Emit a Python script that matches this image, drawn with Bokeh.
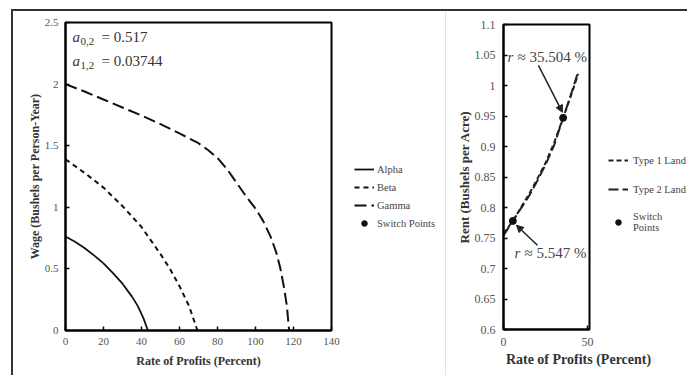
from bokeh.plotting import figure
from bokeh.models import (Range1d, FixedTicker, CustomJSTickFormatter, Legend, LegendItem,
                          Label, Arrow, NormalHead)
from bokeh.layouts import row, column
from bokeh.embed import file_html
from bokeh.resources import INLINE

# ---------------- data: left panel (wage-profit frontiers) ----------------
alpha_r = [0, 5, 10, 15, 20, 25, 30, 35, 38, 41, 43.4]
alpha_w = [0.763, 0.72, 0.67, 0.61, 0.545, 0.465, 0.38, 0.275, 0.2, 0.1, 0.0]

beta_r = [0, 10, 20, 30, 40, 50, 55, 60, 65, 69, 69.5]
beta_w = [1.39, 1.28, 1.16, 1.01, 0.84, 0.62, 0.50, 0.36, 0.20, 0.02, 0.0]

gamma_r = [0, 10, 20, 30, 40, 50, 60, 70, 75, 80, 85, 90, 95, 100, 104, 108, 111, 113, 115,
           116.5, 117.7]
gamma_w = [2.0, 1.94, 1.875, 1.81, 1.745, 1.675, 1.60, 1.52, 1.465, 1.40, 1.31, 1.20, 1.09,
           0.99, 0.89, 0.76, 0.63, 0.51, 0.35, 0.20, 0.0]

left_xticks = [0, 20, 40, 60, 80, 100, 120, 140]
left_yticks = [0, 0.5, 1, 1.5, 2, 2.5]
coef_labels = [("0,2", "= 0.517"), ("1,2", "= 0.03744")]
left_legend_labels = ["Alpha", "Beta", "Gamma", "Switch Points"]

# ---------------- data: right panel (rent curves) ----------------
land_r = [0, 5.547, 10, 15, 20, 25, 30, 35.504, 40, 44.5]
type1_rent = [0.757, 0.778, 0.798, 0.821, 0.846, 0.873, 0.905, 0.947, 0.982, 1.019]
type2_rent = [0.754, 0.778, 0.797, 0.818, 0.843, 0.870, 0.901, 0.947, 0.984, 1.023]
switch_r = [5.547, 35.504]
switch_rent = [0.778, 0.947]
switch_text = ["5.547 %", "35.504 %"]
right_legend_labels = ["Type 1 Land", "Type 2 Land", "Switch\nPoints"]

right_xticks = [0, 50]
right_yticks = [0.6, 0.65, 0.7, 0.75, 0.8, 0.85, 0.9, 0.95, 1.0, 1.05, 1.1]

SERIF = "Liberation Serif"
fmt = CustomJSTickFormatter(code="return tick.toFixed(2).replace(/\\.?0+$/, '');")

ALPHA_STYLE = dict(line_color="#111111", line_width=1.8)
BETA_STYLE = dict(line_color="#111111", line_width=2, line_dash="5 4")
GAMMA_STYLE = dict(line_color="#111111", line_width=2, line_dash="12 5")
T1_STYLE = dict(line_color="#222222", line_width=2, line_dash="5 3")
T2_STYLE = dict(line_color="#222222", line_width=2, line_dash="10 4")
PT_STYLE = dict(size=7, color="#111111")
OFF = [-1000, -999]   # legend proxy renderers live outside the visible range


def style(p, tick_size):
    p.outline_line_color = "black"
    p.outline_line_width = 2
    p.grid.visible = False
    p.border_fill_color = "white"
    for ax in (p.xaxis[0], p.yaxis[0]):
        ax.axis_line_color = "black"
        ax.axis_line_width = 2
        ax.major_tick_in = 4
        ax.major_tick_out = 0
        ax.minor_tick_line_color = None
        ax.major_tick_line_color = "black"
        ax.major_tick_line_width = 1.5
        ax.major_label_text_font = SERIF
        ax.major_label_text_font_size = tick_size
        ax.major_label_text_color = "#555555"
        ax.axis_label_text_font = SERIF
        ax.axis_label_text_font_style = "bold"
        ax.axis_label_text_color = "#333333"
        ax.formatter = fmt


def blank(w, h):
    f = figure(width=w, height=h, x_range=Range1d(0, w), y_range=Range1d(0, h),
               x_axis_type=None, y_axis_type=None, output_backend="svg",
               toolbar_location=None, min_border=0)
    f.outline_line_color = None
    f.grid.visible = False
    f.border_fill_color = "white"
    f.background_fill_color = "white"
    return f


def make_legend(items, loc, spacing, standoff):
    return Legend(items=items, location=loc, glyph_width=20, glyph_height=14,
                  label_height=14, spacing=spacing, padding=0, margin=0,
                  label_standoff=standoff,
                  label_text_font=SERIF, label_text_font_size="10.5px",
                  label_text_color="#444444", border_line_alpha=0,
                  background_fill_alpha=0)


# ---------------- left figure ----------------
p1 = figure(width=331, height=364, x_range=Range1d(0, 140), y_range=Range1d(0, 2.5),
            output_backend="svg", toolbar_location=None,
            min_border_left=52, min_border_right=13, min_border_top=11, min_border_bottom=45)
style(p1, "11px")
p1.xaxis.ticker = FixedTicker(ticks=left_xticks)
p1.yaxis.ticker = FixedTicker(ticks=left_yticks)
p1.xaxis.axis_label = "Rate of Profits (Percent)"
p1.yaxis.axis_label = "Wage (Bushels per Person-Year)"
p1.xaxis.axis_label_text_font_size = "12px"
p1.yaxis.axis_label_text_font_size = "12px"
p1.xaxis.major_label_standoff = 7
p1.yaxis.major_label_standoff = 7
p1.xaxis.axis_label_standoff = 6
p1.yaxis.axis_label_standoff = 0

p1.line(alpha_r, alpha_w, **ALPHA_STYLE)
p1.line(beta_r, beta_w, **BETA_STYLE)
p1.line(gamma_r, gamma_w, **GAMMA_STYLE)

for i, (sub, rest) in enumerate(coef_labels):
    yv = 2.386 - i * 0.196
    p1.add_layout(Label(x=3.7, y=yv, text="a", text_font=SERIF, text_font_style="italic",
                        text_font_size="15px", text_color="#333333", text_baseline="middle"))
    p1.add_layout(Label(x=3.7, y=yv, x_offset=8, y_offset=-5, text=sub, text_font=SERIF,
                        text_font_size="11px", text_color="#333333", text_baseline="middle"))
    p1.add_layout(Label(x=3.7, y=yv, x_offset=29, text=rest, text_font=SERIF,
                        text_font_size="15px", text_color="#333333", text_baseline="middle"))

# left legend area (its frame is aligned with p1's frame by the row)
L1 = blank(101, 364)
la = L1.line(OFF, OFF, **ALPHA_STYLE)
lb = L1.line(OFF, OFF, **BETA_STYLE)
lg = L1.line(OFF, OFF, **GAMMA_STYLE)
ls = L1.scatter(OFF, OFF, size=6, color="#111111")
L1.add_layout(make_legend([LegendItem(label=t, renderers=[r]) for t, r in
                           zip(left_legend_labels, [la, lb, lg, ls])], (10, 100), 4, 3))

# ---------------- right figure ----------------
p2 = figure(width=151, height=341, x_range=Range1d(0, 51.2), y_range=Range1d(0.6, 1.1),
            output_backend="svg", toolbar_location=None,
            min_border_left=57, min_border_right=8, min_border_top=13, min_border_bottom=23)
style(p2, "12px")
p2.xaxis.ticker = FixedTicker(ticks=right_xticks)
p2.yaxis.ticker = FixedTicker(ticks=right_yticks)
p2.yaxis.axis_label = "Rent (Bushels per Acre)"
p2.yaxis.axis_label_text_font_size = "13px"
p2.xaxis.major_label_standoff = 8
p2.yaxis.major_label_standoff = 8
p2.yaxis.axis_label_standoff = 0

p2.line(land_r, type1_rent, **T1_STYLE)
p2.line(land_r, type2_rent, **T2_STYLE)
p2.scatter(switch_r, switch_rent, **PT_STYLE)

ann = [(2.4, 1.046, switch_text[1], 20.8, 1.033, 35.1, 0.956),
       (6.5, 0.725, switch_text[0], 20.2, 0.738, 7.7, 0.771)]
for tx, ty, txt, xs, ys, xe, ye in ann:
    p2.add_layout(Label(x=tx, y=ty, text="r", text_font=SERIF, text_font_style="italic",
                        text_font_size="15px", text_color="#444444", text_baseline="middle"))
    p2.add_layout(Label(x=tx, y=ty, x_offset=10, text="\u2248 " + txt, text_font=SERIF,
                        text_font_size="15px", text_color="#444444", text_baseline="middle"))
    p2.add_layout(Arrow(x_start=xs, y_start=ys, x_end=xe, y_end=ye, line_width=1.5,
                        line_color="#222222",
                        end=NormalHead(size=7, fill_color="#222222", line_color="#222222")))

# right legend area (frame aligned with p2's frame)
L2 = blank(90, 341)
l1 = L2.line(OFF, OFF, **T1_STYLE)
l2 = L2.line(OFF, OFF, **T2_STYLE)
l3 = L2.scatter(OFF, OFF, **PT_STYLE)
L2.add_layout(make_legend([LegendItem(label=t, renderers=[r]) for t, r in
                           zip(right_legend_labels, [l1, l2, l3])], (11, 96), 15, 5))

# right x-axis title strip
T2 = blank(241, 23)
T2.add_layout(Label(x=132, y=16, text="Rate of Profits (Percent)", text_font=SERIF,
                    text_font_style="bold", text_font_size="14px", text_color="#333333",
                    text_align="center", text_baseline="middle"))

left_group = row(p1, L1, spacing=0)
right_group = column(row(p2, L2, spacing=0), T2, spacing=0,
                     styles={"border-left": "1px solid #e2e2e2"})

layout = row(left_group, right_group, spacing=0, margin=(9, 0, 0, 11),
             styles={"border-left": "2px solid #333333", "border-top": "2px solid #333333",
                     "background-color": "white"})

open("out.html", "w").write(file_html(layout, INLINE))
